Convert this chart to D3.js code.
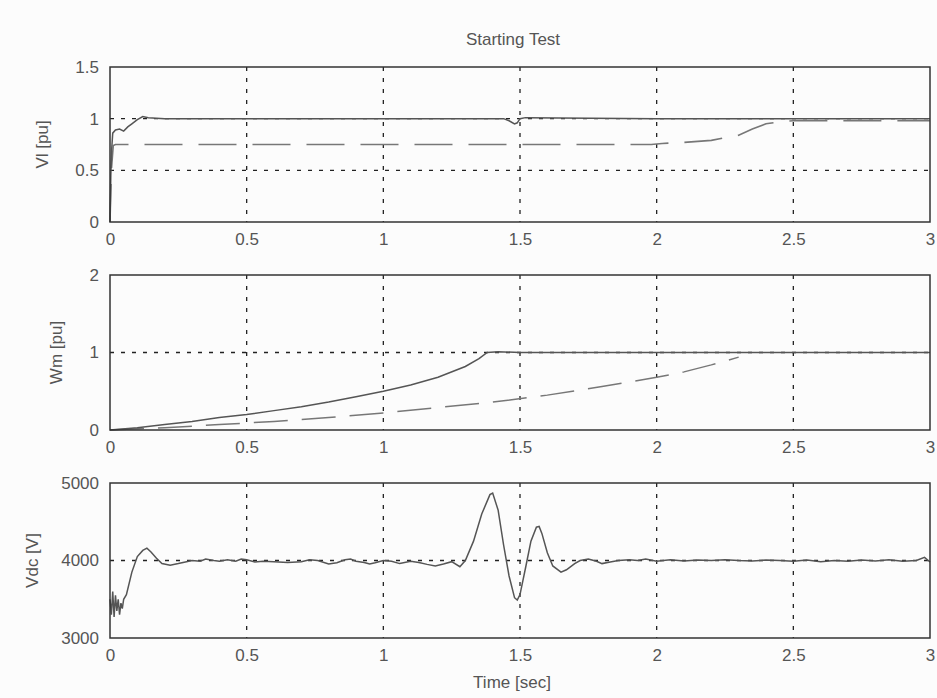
<!DOCTYPE html>
<html>
<head>
<meta charset="utf-8">
<script src="https://cdn.jsdelivr.net/npm/d3@7"></script>
<style>
  body { margin: 0; background: #fff; }
  svg { font-family: "Liberation Sans", Arial, sans-serif; }
  .tick text { fill: #555; font-size: 17px; }
  .tick line { display: none; }
  .domain { display: none; }
</style>
</head>
<body>
<svg id="chart" width="937" height="698"></svg>
<script>
// time ticks shared by all three panels
var timeTicks = [0, 0.5, 1, 1.5, 2, 2.5, 3];
var timeLabels = ["0", "0.5", "1", "1.5", "2", "2.5", "3"];

// panel 1: terminal voltage Vl [pu]
var vlTicks = [0, 0.5, 1, 1.5];
var vlSolidT = [0, 0.003, 0.006, 0.01, 0.02, 0.035, 0.05, 0.065, 0.08, 0.1, 0.12, 0.14, 0.2, 0.5, 1.0, 1.44, 1.46, 1.48, 1.49, 1.5, 1.52, 2.0, 2.5, 3.0];
var vlSolidV = [0, 0.45, 0.7, 0.86, 0.89, 0.9, 0.88, 0.92, 0.95, 0.99, 1.02, 1.01, 1.0, 1.0, 1.0, 1.0, 0.98, 0.95, 0.96, 1.0, 1.01, 1.0, 1.0, 1.0];
var vlDashT = [0, 0.005, 0.012, 0.02, 0.5, 1.0, 1.5, 1.98, 2.02, 2.1, 2.2, 2.3, 2.35, 2.4, 2.45, 2.5, 2.7, 3.0];
var vlDashV = [0, 0.5, 0.74, 0.75, 0.75, 0.75, 0.75, 0.75, 0.76, 0.77, 0.79, 0.84, 0.9, 0.95, 0.97, 0.98, 0.98, 0.98];

// panel 2: rotor speed Wm [pu]
var wmTicks = [0, 1, 2];
var wmSolidT = [0, 0.1, 0.2, 0.3, 0.4, 0.5, 0.6, 0.7, 0.8, 0.9, 1.0, 1.1, 1.2, 1.3, 1.35, 1.38, 1.42, 1.5, 2.0, 2.5, 3.0];
var wmSolidV = [0, 0.03, 0.07, 0.11, 0.16, 0.2, 0.25, 0.3, 0.36, 0.43, 0.5, 0.58, 0.68, 0.82, 0.92, 1.0, 1.01, 1.0, 1.0, 1.0, 1.0];
var wmDashT = [0, 0.2, 0.4, 0.6, 0.8, 1.0, 1.2, 1.4, 1.6, 1.8, 2.0, 2.1, 2.2, 2.3];
var wmDashV = [0, 0.03, 0.07, 0.11, 0.16, 0.22, 0.29, 0.36, 0.45, 0.56, 0.68, 0.75, 0.84, 0.94];

// panel 3: DC link voltage Vdc [V]
var vdcTicks = [3000, 4000, 5000];
var vdcT = [0, 0.005, 0.01, 0.015, 0.02, 0.025, 0.03, 0.035, 0.04, 0.045, 0.05, 0.06, 0.08, 0.1, 0.12, 0.135, 0.15, 0.17, 0.19, 0.22, 0.25, 0.28, 0.3, 0.33, 0.35, 0.38, 0.4, 0.43, 0.46, 0.48, 0.5, 0.53, 0.56, 0.6, 0.65, 0.7, 0.73, 0.76, 0.8, 0.83, 0.86, 0.88, 0.9, 0.93, 0.95, 0.97, 1.0, 1.03, 1.06, 1.1, 1.13, 1.16, 1.19, 1.22, 1.25, 1.28, 1.3, 1.33, 1.36, 1.39, 1.4, 1.42, 1.44, 1.46, 1.48, 1.49, 1.5, 1.52, 1.54, 1.56, 1.57, 1.58, 1.6, 1.62, 1.65, 1.67, 1.7, 1.72, 1.75, 1.78, 1.8, 1.83, 1.86, 1.9, 1.93, 1.96, 2.0, 2.05, 2.1, 2.15, 2.2, 2.25, 2.3, 2.35, 2.4, 2.45, 2.5, 2.55, 2.6, 2.65, 2.7, 2.75, 2.8, 2.85, 2.9, 2.95, 2.98, 3.0];
var vdcV = [3500, 3300, 3600, 3270, 3550, 3350, 3500, 3300, 3450, 3380, 3500, 3560, 3850, 4050, 4130, 4160, 4110, 4030, 3960, 3940, 3960, 3985, 4000, 3990, 4020, 4000, 3990, 4010, 3990, 4020, 4010, 3980, 3990, 3985, 3975, 3985, 4010, 4000, 3955, 3970, 4010, 4020, 3990, 3975, 3955, 3970, 4000, 3990, 3960, 3990, 3975, 3950, 3930, 3955, 3985, 3920, 4000, 4250, 4600, 4850, 4870, 4650, 4200, 3800, 3520, 3490, 3560, 3900, 4250, 4430, 4440, 4350, 4100, 3930, 3850, 3880, 3960, 4000, 4020, 3990, 3960, 3980, 4000, 4010, 4000, 4020, 3990, 4010, 3995, 4005, 4000, 4010, 4000, 3995, 4005, 4000, 3990, 4005, 3985, 4000, 3990, 4005, 3995, 4010, 3990, 4000, 4040, 3980];

var svg = d3.select("#chart");
var left = 110, right = 930, ph = 155;

svg.append("rect").attr("width", 937).attr("height", 698).attr("fill", "#fcfcfc");

var x = d3.scaleLinear().domain([0, 3]).range([left, right]);

function zip(ts, vs) { return ts.map(function(t, i) { return [t, vs[i]]; }); }

function panel(opts) {
  var y = d3.scaleLinear().domain(opts.domain).range([opts.top + ph, opts.top]);
  var g = svg.append("g");

  // vertical grid
  g.selectAll(".vgrid").data(timeTicks.slice(1, -1)).enter().append("line")
    .attr("x1", function(d) { return x(d); }).attr("x2", function(d) { return x(d); })
    .attr("y1", opts.top).attr("y2", opts.top + ph)
    .attr("stroke", "#222").attr("stroke-width", 1.3).attr("stroke-dasharray", "4,7");

  // horizontal grid
  g.selectAll(".hgrid").data(opts.ticks.slice(1, -1)).enter().append("line")
    .attr("x1", left).attr("x2", right)
    .attr("y1", function(d) { return y(d); }).attr("y2", function(d) { return y(d); })
    .attr("stroke", "#222").attr("stroke-width", 1.3).attr("stroke-dasharray", "4,7");

  var line = d3.line().x(function(d) { return x(d[0]); }).y(function(d) { return y(d[1]); });

  opts.series.forEach(function(s) {
    g.append("path").datum(s.data)
      .attr("fill", "none").attr("stroke", s.color || "#666")
      .attr("stroke-width", s.width || 1.5)
      .attr("stroke-dasharray", s.dash || null)
      .attr("d", line);
  });

  // frame
  g.append("rect").attr("x", left).attr("y", opts.top)
    .attr("width", right - left).attr("height", ph)
    .attr("fill", "none").attr("stroke", "#333").attr("stroke-width", 1.5);

  g.append("g").attr("transform", "translate(" + (left - 8) + ",0)")
    .call(d3.axisLeft(y).tickValues(opts.ticks).tickSize(0).tickFormat(d3.format("")));

  g.append("g").attr("transform", "translate(0," + (opts.top + ph + 8) + ")")
    .call(d3.axisBottom(x).tickValues(timeTicks).tickSize(0)
      .tickFormat(function(d, i) { return timeLabels[i]; }));

  g.append("text")
    .attr("transform", "translate(" + opts.labelX + "," + (opts.top + ph / 2) + ") rotate(-90)")
    .attr("text-anchor", "middle").attr("fill", "#555").attr("font-size", 17)
    .text(opts.label);
}

panel({
  top: 67, domain: [0, 1.5], ticks: vlTicks, label: "Vl [pu]", labelX: 48,
  series: [
    { data: zip(vlDashT, vlDashV), dash: "38,16", color: "#777", width: 1.6 },
    { data: zip(vlSolidT, vlSolidV), color: "#555", width: 1.5 }
  ]
});

panel({
  top: 275, domain: [0, 2], ticks: wmTicks, label: "Wm [pu]", labelX: 62,
  series: [
    { data: zip(wmDashT, wmDashV), dash: "34,14", color: "#777", width: 1.5 },
    { data: zip(wmSolidT, wmSolidV), color: "#555", width: 1.5 }
  ]
});

panel({
  top: 483, domain: [3000, 5000], ticks: vdcTicks, label: "Vdc [V]", labelX: 38,
  series: [
    { data: zip(vdcT, vdcV), color: "#555", width: 1.5 }
  ]
});

svg.append("text").attr("x", 513).attr("y", 45).attr("text-anchor", "middle")
  .attr("fill", "#555").attr("font-size", 17).text("Starting Test");

svg.append("text").attr("x", 512).attr("y", 688).attr("text-anchor", "middle")
  .attr("fill", "#555").attr("font-size", 17).text("Time [sec]");
</script>
</body>
</html>
